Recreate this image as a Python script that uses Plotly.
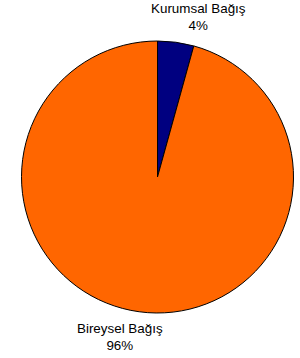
import plotly.graph_objects as go

labels = ["Kurumsal Bağış", "Bireysel Bağış"]
values = [4.3, 95.7]
colors = ["#000080", "#FF6600"]
label_x = [198, 119.5]   # label centre positions in pixels
label_y = [17, 337]

W, H = 300, 358
total = sum(values)

fig = go.Figure(go.Pie(
    labels=labels, values=values, sort=False, direction="clockwise", rotation=0,
    marker=dict(colors=colors, line=dict(color="black", width=1)),
    textinfo="none", hoverinfo="label+percent", showlegend=False,
    domain=dict(x=[21 / W, 294 / W], y=[(H - 313) / H, (H - 41) / H]),
))

for lab, v, lx, ly in zip(labels, values, label_x, label_y):
    fig.add_annotation(
        x=lx / W, y=1 - ly / H, xref="paper", yref="paper",
        text=f"{lab}<br>{round(100 * v / total)}%", showarrow=False,
        font=dict(family="Liberation Sans, Arial", size=13.4, color="black"),
        align="center", xanchor="center", yanchor="middle",
    )

fig.update_layout(
    width=W, height=H, margin=dict(l=0, r=0, t=0, b=0),
    paper_bgcolor="white", plot_bgcolor="white",
)
fig.write_html("out.html", config={"displayModeBar": False},
               post_script="document.body.style.margin='0';document.body.style.overflow='hidden';")
